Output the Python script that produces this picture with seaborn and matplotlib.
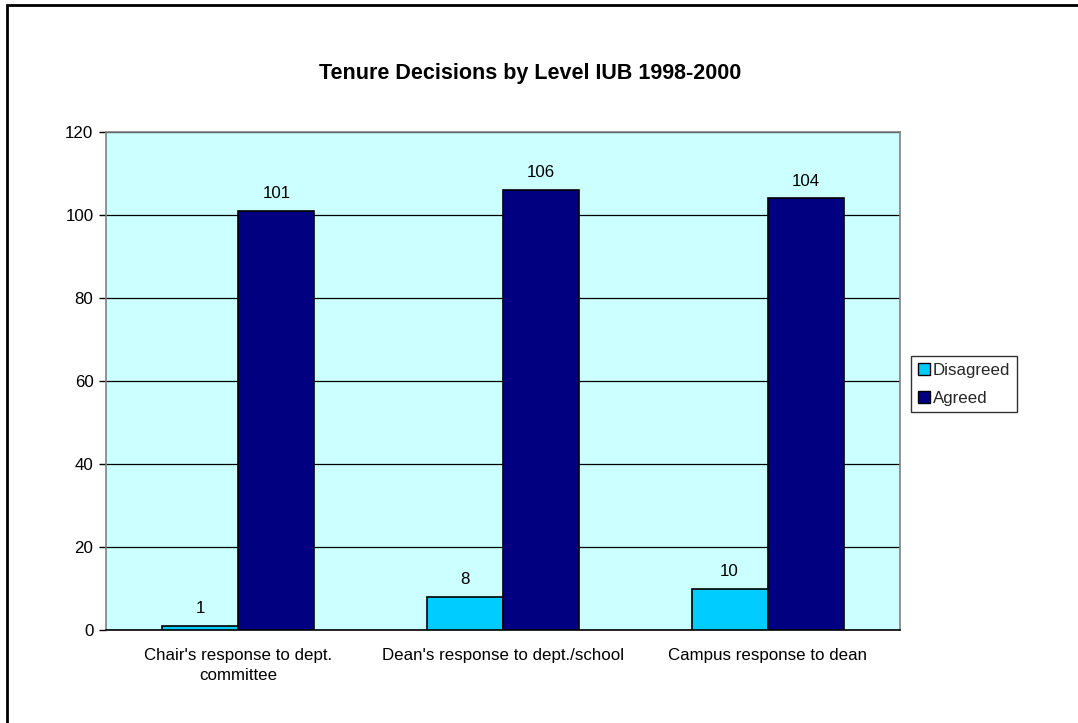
import matplotlib
matplotlib.use("Agg")
import matplotlib.pyplot as plt
from matplotlib.patches import Rectangle, Patch
import seaborn as sns
import pandas as pd

# Data
categories = ["Chair's response to dept.\ncommittee",
              "Dean's response to dept./school",
              "Campus response to dean"]
series_names = ["Disagreed", "Agreed"]
disagreed = [1, 8, 10]
agreed = [101, 106, 104]
y_ticks = [0, 20, 40, 60, 80, 100, 120]

colors = {"Disagreed": "#00CCFF", "Agreed": "#000080"}

df = pd.DataFrame({
    "category": categories * 2,
    "series": [series_names[0]] * 3 + [series_names[1]] * 3,
    "value": disagreed + agreed,
})

sns.set_theme(style="white")
plt.rcParams["font.family"] = ["Liberation Sans", "DejaVu Sans"]

FS = 12.2

W, H = 1078, 723
fig = plt.figure(figsize=(W / 100, H / 100), dpi=100)
fig.patch.set_facecolor("white")

ax = fig.add_axes([106 / W, 1 - 630 / H, (900 - 106) / W, (630 - 132) / H])
ax.set_facecolor("#CCFFFF")

sns.barplot(data=df, x="category", y="value", hue="series", order=categories,
            hue_order=series_names, palette=colors, width=0.575, gap=0,
            edgecolor="black", linewidth=1.2, saturation=1, ax=ax,
            legend=False, zorder=3)

ax.set_ylim(0, 120)
ax.set_xlim(-0.5, 2.5)
ax.set_yticks(y_ticks)
ax.set_yticklabels([str(t) for t in y_ticks], fontsize=FS, color="black")
ax.set_xlabel("")
ax.set_ylabel("")

# horizontal gridlines
ax.yaxis.grid(True, color="black", linewidth=0.9, zorder=1)
ax.set_axisbelow(True)

# category labels centred, ticks at category boundaries
ax.set_xticks([0, 1, 2])
ax.set_xticklabels(categories, fontsize=FS, color="black", linespacing=1.4)
ax.tick_params(axis="x", length=0, pad=13)
ax.set_xticks([-0.5, 0.5, 1.5, 2.5], minor=True)
ax.tick_params(axis="x", which="minor", length=5, width=1, color="black",
               direction="out")
ax.tick_params(axis="y", length=5, width=1, color="black", direction="out",
               left=True, pad=4)

for side in ["left", "top", "right"]:
    ax.spines[side].set_color("#808080")
    ax.spines[side].set_linewidth(1.2)
ax.spines["bottom"].set_color("black")
ax.spines["bottom"].set_linewidth(1.2)

# value labels above bars
for container in ax.containers:
    ax.bar_label(container, fontsize=FS, padding=7, color="black")

# legend
handles = [Patch(facecolor=colors[s], edgecolor="black", linewidth=1.0, label=s)
           for s in series_names]
leg = fig.legend(handles=handles, loc="upper left",
                 bbox_to_anchor=(911 / W, 1 - 356 / H), fontsize=FS,
                 frameon=True, fancybox=False, framealpha=1,
                 edgecolor="#333333", handlelength=0.75, handleheight=0.75,
                 handletextpad=0.15, borderpad=0.4, labelspacing=0.75,
                 borderaxespad=0)
leg.get_frame().set_linewidth(1.0)

# title
fig.text(530 / W, 1 - 74 / H, "Tenure Decisions by Level IUB 1998-2000",
         ha="center", va="center", fontsize=15.5, fontweight="bold",
         color="black")

# outer chart frame
fig.add_artist(Rectangle((6.5 / W, -0.1), 1.2, 1 - 5.5 / H + 0.1,
                         transform=fig.transFigure, fill=False,
                         edgecolor="black", linewidth=2, zorder=10))

fig.savefig("out.png", dpi=100, facecolor="white")
